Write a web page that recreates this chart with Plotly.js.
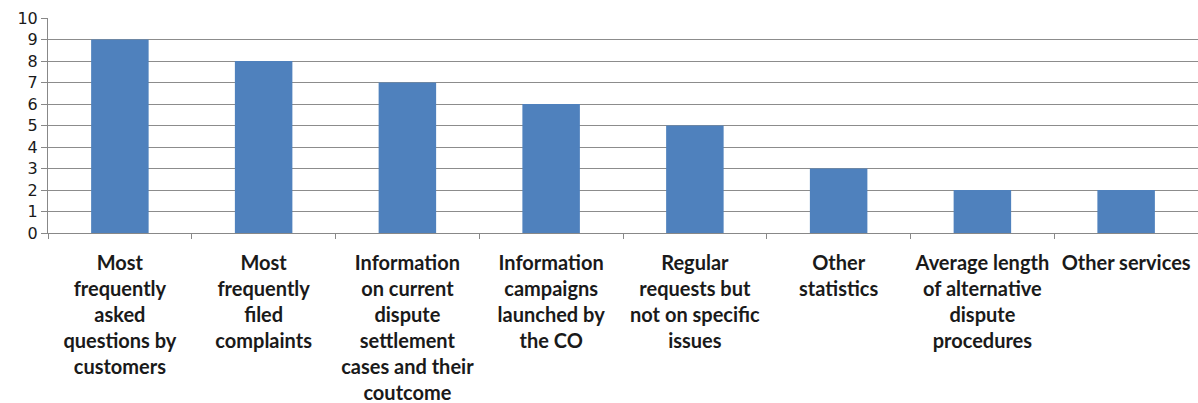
<!DOCTYPE html>
<html>
<head>
<meta charset="utf-8">
<script src="https://cdn.plot.ly/plotly-3.0.1.min.js"></script>
<style>html,body{margin:0;padding:0;background:#fff;}#chart{width:1198px;height:403px;}</style>
</head>
<body>
<div id="chart"></div>
<script>
const categories = [
  "Most<br>frequently<br>asked<br>questions by<br>customers",
  "Most<br>frequently<br>filed<br>complaints",
  "Information<br>on current<br>dispute<br>settlement<br>cases and their<br>coutcome",
  "Information<br>campaigns<br>launched by<br>the CO",
  "Regular<br>requests but<br>not on specific<br>issues",
  "Other<br>statistics",
  "Average length<br>of alternative<br>dispute<br>procedures",
  "Other services"
];
const values = [9, 8, 7, 6, 5, 3, 2, 2];
const yTicks = [0,1,2,3,4,5,6,7,8,9,10];

const trace = {
  type: 'bar',
  x: categories,
  y: values,
  width: 0.4,
  marker: {color: '#4F81BD'},
  hoverinfo: 'x+y'
};

const layout = {
  width: 1198,
  height: 403,
  margin: {l: 48, r: 0, t: 18, b: 170},
  paper_bgcolor: '#fff',
  plot_bgcolor: '#fff',
  showlegend: false,
  bargap: 0.6,
  xaxis: {
    type: 'category',
    tickson: 'boundaries',
    ticks: 'outside',
    ticklen: 5,
    tickcolor: '#888',
    showline: true,
    linecolor: '#888',
    linewidth: 1,
    showgrid: false,
    tickangle: 0,
    ticklabelstandoff: 12,
    tickfont: {family: 'Lato, Calibri, sans-serif', size: 20, color: '#1a1a1a', weight: 'bold'},
    automargin: false
  },
  yaxis: {
    range: [0, 10],
    tickvals: yTicks,
    ticktext: yTicks.map(String),
    ticks: 'outside',
    ticklen: 6,
    tickcolor: '#888',
    showline: true,
    linecolor: '#888',
    gridcolor: '#8c8c8c',
    gridwidth: 1,
    zeroline: false,
    tickfont: {family: 'Verdana, DejaVu Sans, sans-serif', size: 16, color: '#1a1a1a'},
    automargin: false
  }
};

Plotly.newPlot('chart', [trace], layout, {displayModeBar: false, staticPlot: true});
</script>
</body>
</html>
